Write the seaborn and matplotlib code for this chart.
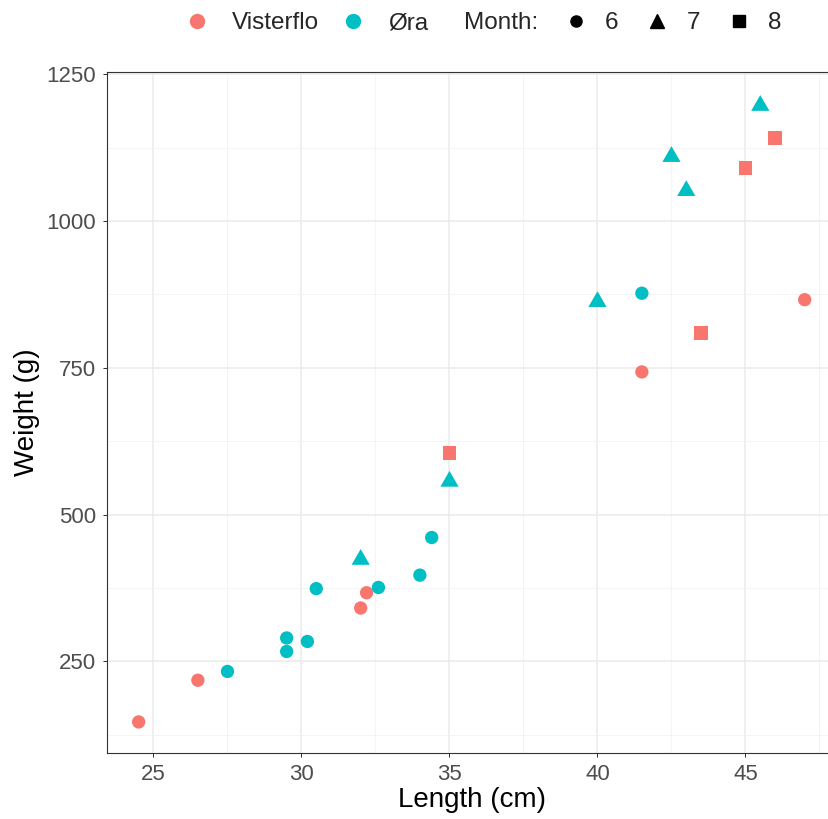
import numpy as np
import pandas as pd
import matplotlib
matplotlib.use("Agg")
import matplotlib.pyplot as plt
from matplotlib.lines import Line2D
from matplotlib.markers import MarkerStyle
import seaborn as sns

# ---- data ----
vis_length = [24.5, 26.5, 32.0, 32.2, 35.0, 41.5, 43.5, 45.0, 46.0, 47.0]
vis_weight = [147, 218, 341, 367, 605, 743, 809, 1090, 1141, 866]
vis_month = [6, 6, 6, 6, 8, 6, 8, 8, 8, 6]

ora_length = [27.5, 29.5, 29.5, 30.2, 30.5, 32.6, 32.0, 34.0, 34.4, 35.0, 40.0, 41.5, 42.5, 43.0, 45.5]
ora_weight = [233, 290, 267, 284, 374, 376, 428, 397, 461, 561, 867, 877, 1114, 1056, 1201]
ora_month = [6, 6, 6, 6, 6, 6, 7, 6, 6, 7, 7, 6, 7, 7, 7]

sites = ["Visterflo", "Øra"]
months = [6, 7, 8]
colors = {"Visterflo": "#F8766D", "Øra": "#00BFC4"}

df = pd.DataFrame({
    "Length": vis_length + ora_length,
    "Weight": vis_weight + ora_weight,
    "Site": ["Visterflo"] * len(vis_length) + ["Øra"] * len(ora_length),
    "Month": vis_month + ora_month,
})

# ---- style ----
sns.set_style("white")
plt.rcParams["font.family"] = ["Liberation Sans", "DejaVu Sans"]

W, H = 829, 819
fig = plt.figure(figsize=(W / 100, H / 100), dpi=100)
left, bottom_px, top_px = 107, 753, 72
xlim = (23.43, 48.08)
ylim = (94.1, 1253.7)
px_per_x = 29.6
ax_w = (xlim[1] - xlim[0]) * px_per_x
ax = fig.add_axes([left / W, 1 - bottom_px / H, ax_w / W, (bottom_px - top_px) / H])

tri = MarkerStyle([(-1, -0.866), (1, -0.866), (0, 0.866)])
markers = {6: "o", 7: tri, 8: "s"}
sizes = {6: 92, 7: 172, 8: 100}

sns.scatterplot(data=df, x="Length", y="Weight", hue="Site", style="Month",
                size="Month", palette=colors, markers=markers, sizes=sizes,
                hue_order=sites, linewidth=0, legend=False, ax=ax, zorder=3)

ax.set_xticks([25, 30, 35, 40, 45])
ax.set_yticks([250, 500, 750, 1000, 1250])
ax.set_xticks([27.5, 32.5, 37.5, 42.5, 47.5], minor=True)
ax.set_yticks([125, 375, 625, 875, 1125], minor=True)
ax.set_xlim(*xlim)
ax.set_ylim(*ylim)
ax.grid(which="major", color="#EBEBEB", linewidth=1.1, zorder=0)
ax.grid(which="minor", color="#F2F2F2", linewidth=0.6, zorder=0)
ax.set_axisbelow(True)
for s in ax.spines.values():
    s.set_color("#333333")
    s.set_linewidth(0.8)
ax.tick_params(which="major", length=3.2, width=0.75, color="#333333",
               labelsize=16, labelcolor="#4D4D4D", pad=4.5, bottom=True, left=True)
ax.tick_params(which="minor", length=0)
ax.set_xlabel("Length (cm)", fontsize=20, color="black", labelpad=2)
ax.set_ylabel("Weight (g)", fontsize=20, color="black", labelpad=5)

# ---- legend ----
fs = 17.5
site_handles = [
    Line2D([], [], marker="o", linestyle="", color=colors[s], markersize=10)
    for s in sites
]
fig.legend(site_handles, sites, loc="center left",
           bbox_to_anchor=(185 / W, 1 - 23 / H), ncol=2, frameon=False,
           fontsize=fs, handlelength=1.0, handletextpad=0.94,
           columnspacing=0.9, borderpad=0, borderaxespad=0)
fig.text(464 / W, 1 - 23 / H, "Month:", fontsize=fs, ha="left", va="center")
month_handles = [
    Line2D([], [], marker="o", linestyle="", color="black", markersize=8),
    Line2D([], [], marker="^", linestyle="", color="black", markersize=10),
    Line2D([], [], marker="s", linestyle="", color="black", markersize=8),
]
fig.legend(month_handles, [str(m) for m in months], loc="center left",
           bbox_to_anchor=(564 / W, 1 - 23 / H), ncol=3, frameon=False,
           fontsize=fs, handlelength=1.0, handletextpad=0.69,
           columnspacing=1.1, borderpad=0, borderaxespad=0)

fig.savefig("out.png", dpi=100)
